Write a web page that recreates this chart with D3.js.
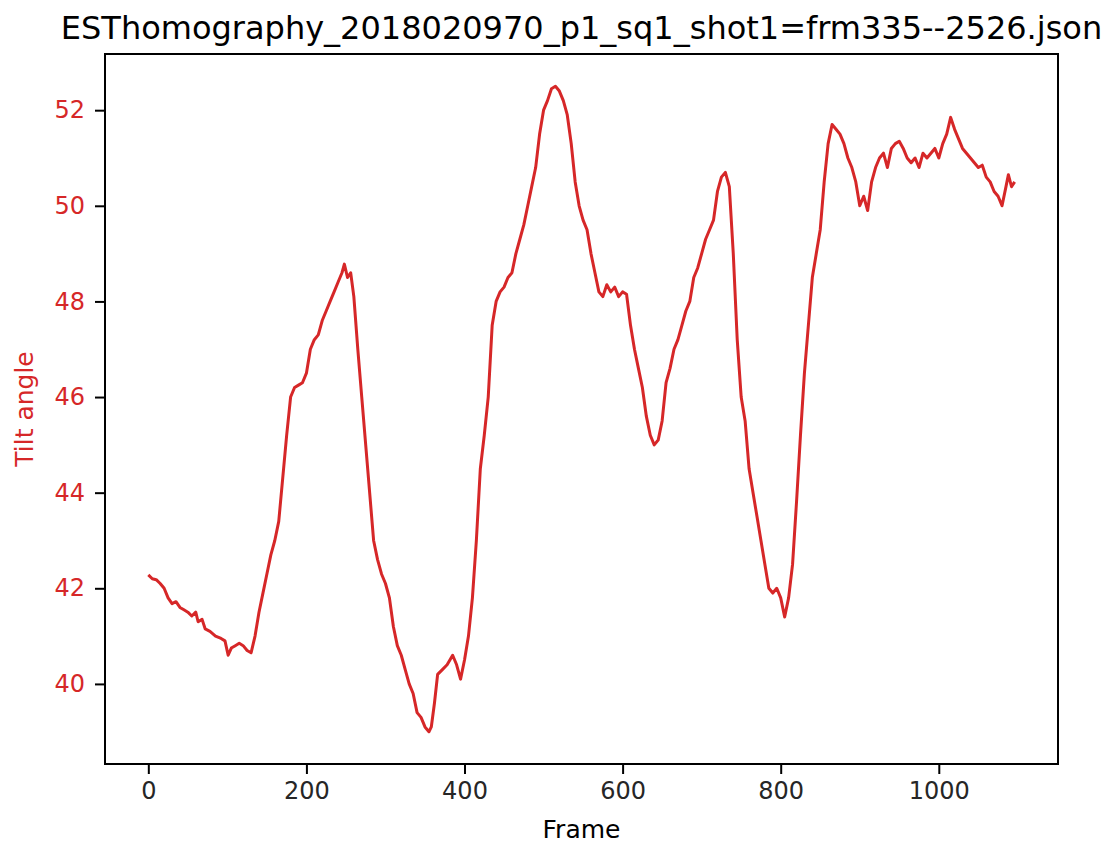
<!DOCTYPE html>
<html>
<head>
<meta charset="utf-8">
<script src="https://cdn.jsdelivr.net/npm/d3@7"></script>
<style>
  body { margin: 0; background: #fff; }
  text { font-family: "DejaVu Sans", sans-serif; }
</style>
</head>
<body>
<div id="chart"></div>
<script>
"use strict";

// values, [frame, tilt angle]
var frames = [0, 5, 10, 15, 20, 25, 30, 35, 40, 45, 50, 55, 60, 63, 68, 72, 78, 85, 92, 97,
  101, 105, 110, 115, 120, 125, 130, 135, 140, 145, 150, 155, 160, 165, 170, 175, 180, 185, 190, 195,
  200, 205, 210, 215, 220, 225, 230, 235, 240, 245, 248, 252, 256, 260, 265, 270, 275, 280, 285, 290,
  295, 300, 305, 310, 315, 320, 325, 330, 335, 340, 345, 350, 355, 358, 362, 366, 372, 378, 385, 390,
  395, 400, 405, 410, 415, 420, 425, 430, 435, 440, 445, 450, 455, 460, 465, 470, 475, 480, 485, 490,
  495, 500, 505, 510, 515, 520, 525, 530, 535, 540, 545, 550, 555, 560, 565, 570, 575, 580, 585, 590,
  595, 600, 605, 610, 615, 620, 625, 630, 635, 640, 645, 650, 655, 660, 665, 670, 675, 680, 685, 690,
  695, 700, 705, 710, 715, 720, 725, 730, 735, 740, 745, 750, 755, 760, 765, 770, 775, 780, 785, 790,
  795, 800, 805, 810, 815, 820, 825, 830, 835, 840, 845, 850, 855, 860, 865, 870, 875, 880, 885, 890,
  895, 900, 905, 910, 915, 920, 925, 930, 935, 940, 945, 950, 955, 960, 965, 970, 975, 980, 985, 990,
  995, 1000, 1005, 1010, 1015, 1020, 1025, 1030, 1035, 1040, 1045, 1050, 1055, 1060, 1065, 1070, 1075, 1080, 1085, 1088,
  1092, 1096];
var tilt = [42.28, 42.2, 42.18, 42.1, 42.0, 41.8, 41.68, 41.72, 41.6, 41.55, 41.5, 41.42, 41.5, 41.3, 41.35, 41.15, 41.1, 41.0, 40.95, 40.9,
  40.6, 40.75, 40.8, 40.85, 40.8, 40.7, 40.65, 41.0, 41.5, 41.9, 42.3, 42.7, 43.0, 43.4, 44.3, 45.2, 46.0, 46.2, 46.25, 46.3,
  46.5, 47.0, 47.2, 47.3, 47.6, 47.8, 48.0, 48.2, 48.4, 48.6, 48.78, 48.5, 48.6, 48.1, 47.0, 46.0, 45.0, 44.0, 43.0, 42.6,
  42.3, 42.1, 41.8, 41.2, 40.8, 40.6, 40.3, 40.0, 39.8, 39.4, 39.3, 39.1, 39.0, 39.1, 39.6, 40.2, 40.3, 40.4, 40.6, 40.4,
  40.1, 40.5, 41.0, 41.8, 43.0, 44.5, 45.2, 46.0, 47.5, 48.0, 48.2, 48.3, 48.5, 48.6, 49.0, 49.3, 49.6, 50.0, 50.4, 50.8,
  51.5, 52.0, 52.2, 52.45, 52.5, 52.4, 52.2, 51.9, 51.3, 50.5, 50.0, 49.7, 49.5, 49.0, 48.6, 48.2, 48.1, 48.35, 48.2, 48.3,
  48.1, 48.2, 48.15, 47.5, 47.0, 46.6, 46.2, 45.6, 45.2, 45.0, 45.1, 45.5, 46.3, 46.6, 47.0, 47.2, 47.5, 47.8, 48.0, 48.5,
  48.7, 49.0, 49.3, 49.5, 49.7, 50.3, 50.6, 50.7, 50.4, 49.0, 47.2, 46.0, 45.5, 44.5, 44.0, 43.5, 43.0, 42.5, 42.0, 41.9,
  42.0, 41.8, 41.4, 41.8, 42.5, 43.8, 45.2, 46.5, 47.5, 48.5, 49.0, 49.5, 50.5, 51.3, 51.7, 51.6, 51.5, 51.3, 51.0, 50.8,
  50.5, 50.0, 50.2, 49.9, 50.5, 50.8, 51.0, 51.1, 50.8, 51.2, 51.3, 51.35, 51.2, 51.0, 50.9, 51.0, 50.8, 51.1, 51.0, 51.1,
  51.2, 51.0, 51.3, 51.5, 51.85, 51.6, 51.4, 51.2, 51.1, 51.0, 50.9, 50.8, 50.85, 50.6, 50.5, 50.3, 50.2, 50.0, 50.4, 50.65,
  50.4, 50.5];
var xTicks = [0, 200, 400, 600, 800, 1000];
var yTicks = [40, 42, 44, 46, 48, 50, 52];
var title = "ESThomography_2018020970_p1_sq1_shot1=frm335--2526.json";

var W = 1109, H = 848;
var m = { left: 105, right: 51, top: 54, bottom: 84 };
var red = "#d62728";

var svg = d3.select("#chart").append("svg").attr("width", W).attr("height", H);

// matplotlib-like 5% margins around the data
var xExt = d3.extent(frames), yExt = d3.extent(tilt);
var xPad = (xExt[1] - xExt[0]) * 0.05, yPad = (yExt[1] - yExt[0]) * 0.05;
var x = d3.scaleLinear().domain([xExt[0] - xPad, xExt[1] + xPad]).range([m.left, W - m.right]);
var y = d3.scaleLinear().domain([yExt[0] - yPad, yExt[1] + yPad]).range([H - m.bottom, m.top]);

var pts = frames.map(function (f, i) { return [f, tilt[i]]; });
var line = d3.line().x(function (d) { return x(d[0]); }).y(function (d) { return y(d[1]); });

svg.append("path").datum(pts)
  .attr("d", line)
  .attr("fill", "none")
  .attr("stroke", red)
  .attr("stroke-width", 3)
  .attr("stroke-linejoin", "round");

var xAxis = svg.append("g").attr("transform", "translate(0," + (H - m.bottom) + ")")
  .call(d3.axisBottom(x).tickValues(xTicks).tickSize(10).tickPadding(8).tickFormat(d3.format("d")));
var yAxis = svg.append("g").attr("transform", "translate(" + m.left + ",0)")
  .call(d3.axisLeft(y).tickValues(yTicks).tickSize(10).tickPadding(10).tickFormat(d3.format("d")));

[xAxis, yAxis].forEach(function (g) {
  g.select(".domain").remove();
  g.selectAll(".tick line").attr("stroke", "#000").attr("stroke-width", 2);
  g.selectAll(".tick text").attr("font-size", 24).attr("font-family", "DejaVu Sans");
});
xAxis.selectAll(".tick text").attr("fill", "#262626");
yAxis.selectAll(".tick text").attr("fill", red);

// frame around the plot
svg.append("rect")
  .attr("x", m.left).attr("y", m.top)
  .attr("width", W - m.left - m.right).attr("height", H - m.top - m.bottom)
  .attr("fill", "none").attr("stroke", "#000").attr("stroke-width", 2);

svg.append("text")
  .attr("x", (m.left + W - m.right) / 2).attr("y", 39)
  .attr("text-anchor", "middle").attr("font-size", 32).attr("fill", "#000")
  .text(title);

svg.append("text")
  .attr("x", (m.left + W - m.right) / 2).attr("y", 838)
  .attr("text-anchor", "middle").attr("font-size", 25).attr("fill", "#000")
  .text("Frame");

svg.append("text")
  .attr("transform", "translate(33," + ((m.top + H - m.bottom) / 2) + ") rotate(-90)")
  .attr("text-anchor", "middle").attr("font-size", 25).attr("fill", red)
  .text("Tilt angle");
</script>
</body>
</html>
